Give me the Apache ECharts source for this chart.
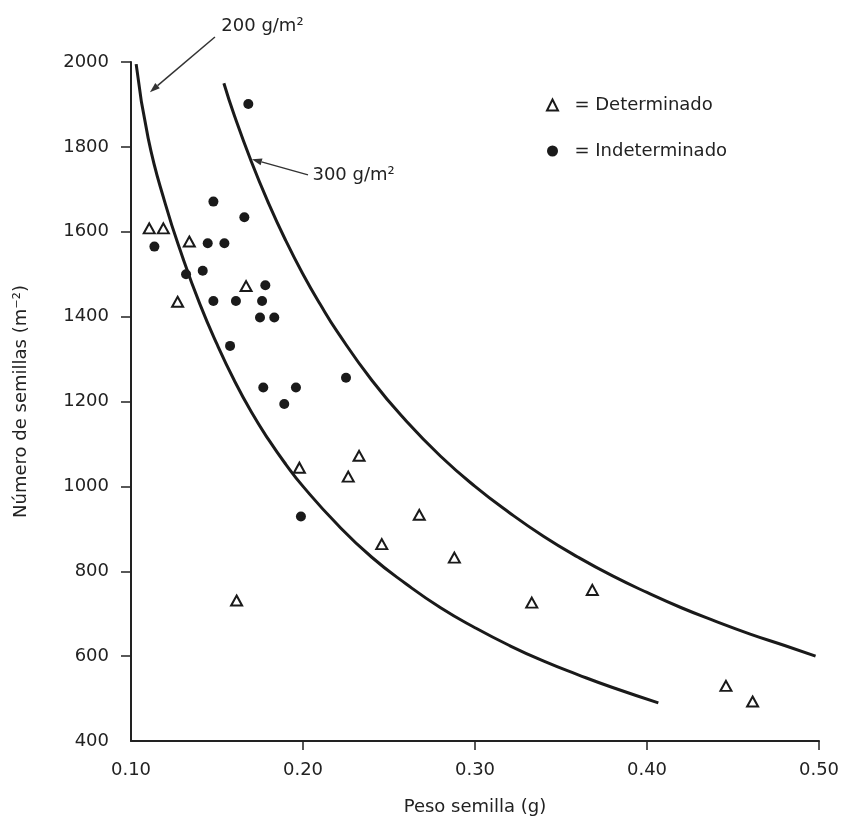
<!DOCTYPE html>
<html>
<head>
<meta charset="utf-8">
<script src="https://cdn.jsdelivr.net/npm/echarts@6/dist/echarts.min.js"></script>
<style>html,body{margin:0;padding:0;background:#fff}#c{width:845px;height:822px}</style>
</head>
<body>
<div id="c"></div>
<script>
// ---- data ----
const xTickValues = [0.10, 0.20, 0.30, 0.40, 0.50];
const yTickValues = [400, 600, 800, 1000, 1200, 1400, 1600, 1800, 2000];

const detX = [0.1106, 0.1188, 0.1339, 0.1271, 0.1669, 0.1979, 0.2326, 0.2263, 0.2676, 0.2458, 0.2880, 0.3330, 0.3682, 0.1614, 0.4459, 0.4614];
const detY = [1608, 1608, 1577, 1435, 1472, 1044, 1072, 1023, 933, 864, 832, 726, 756, 731, 530, 493];

const indX = [0.1136, 0.1446, 0.1543, 0.1479, 0.1659, 0.1320, 0.1417, 0.1479, 0.1610, 0.1762, 0.1781, 0.1750, 0.1833, 0.1576, 0.2250, 0.1769, 0.1959, 0.1891, 0.1988, 0.1682];
const indY = [1565, 1573, 1573, 1671, 1634, 1500, 1508, 1437, 1437, 1437, 1474, 1398, 1398, 1331, 1256, 1233, 1233, 1194, 929, 1901];

const curve200X = [0.103, 0.11, 0.12, 0.13, 0.14, 0.15, 0.16, 0.17, 0.18, 0.19, 0.20, 0.22, 0.24, 0.26, 0.28, 0.30, 0.32, 0.34, 0.36, 0.38, 0.4066];
const curve200Y = [1995, 1820, 1665, 1540, 1430, 1335, 1250, 1175, 1110, 1052, 1000, 910, 833, 770, 714, 667, 625, 588, 556, 526, 490];

const curve300X = [0.154, 0.16, 0.17, 0.18, 0.19, 0.20, 0.21, 0.22, 0.24, 0.26, 0.28, 0.30, 0.32, 0.34, 0.36, 0.38, 0.40, 0.42, 0.44, 0.46, 0.48, 0.498];
const curve300Y = [1950, 1875, 1765, 1667, 1579, 1500, 1429, 1364, 1250, 1154, 1071, 1000, 938, 882, 833, 789, 750, 714, 682, 652, 625, 600];

const seriesNames = ['Determinado', 'Indeterminado'];
const curveLabels = ['200 g/m²', '300 g/m²'];
// annotation arrows: [textX, textY, arrowStartX, arrowStartY, arrowEndX, arrowEndY] in data units
const annot200 = [0.1525, 2085, 0.1488, 2059, 0.1110, 1929];
const annot300 = [0.2055, 1734, 0.2029, 1734, 0.1703, 1771];

const zip = (a, b) => a.map((v, i) => [v, b[i]]);

const FONT = 'DejaVu Sans';
const TXT = '#222';
const INK = '#1a1a1a';

const chart = echarts.init(document.getElementById('c'), null, {renderer: 'canvas'});

const option = {
  animation: false,
  backgroundColor: '#fff',
  grid: {left: 131, right: 26, top: 62, bottom: 81, containLabel: false},
  legend: {
    orient: 'vertical', left: 541, top: 91,
    itemWidth: 11, itemHeight: 11, itemGap: 28,
    data: seriesNames,
    formatter: n => '  = ' + n,
    textStyle: {fontFamily: FONT, fontSize: 18, color: TXT}
  },
  xAxis: {
    type: 'value', min: 0.1, max: 0.5, interval: 0.1,
    name: 'Peso semilla (g)', nameLocation: 'middle', nameGap: 57,
    nameTextStyle: {fontFamily: FONT, fontSize: 18, color: TXT},
    axisLine: {show: true, onZero: false, lineStyle: {color: '#222', width: 2}},
    axisTick: {show: true, length: 9, inside: false, lineStyle: {color: '#222', width: 1.5}, customValues: xTickValues.slice(1)},
    axisLabel: {fontFamily: FONT, fontSize: 18, color: TXT, margin: 20,
      customValues: xTickValues, formatter: v => v.toFixed(2)},
    splitLine: {show: false}
  },
  yAxis: {
    type: 'value', min: 400, max: 2000, interval: 200,
    name: 'Número de semillas (m⁻²)', nameLocation: 'middle', nameGap: 101,
    nameTextStyle: {fontFamily: FONT, fontSize: 18, color: TXT},
    axisLine: {show: true, onZero: false, lineStyle: {color: '#222', width: 2}},
    axisTick: {show: true, length: 10, inside: false, lineStyle: {color: '#222', width: 1.5}, customValues: yTickValues.slice(1)},
    axisLabel: {fontFamily: FONT, fontSize: 18, color: TXT, margin: 22, customValues: yTickValues,
      formatter: v => String(Math.round(v))},
    splitLine: {show: false}
  },
  series: [
    {
      name: '200', type: 'line', data: zip(curve200X, curve200Y), smooth: true,
      showSymbol: false, silent: true, clip: false,
      lineStyle: {color: INK, width: 3}
    },
    {
      name: '300', type: 'line', data: zip(curve300X, curve300Y), smooth: true,
      showSymbol: false, silent: true, clip: false,
      lineStyle: {color: INK, width: 3}
    },
    {
      name: seriesNames[0], type: 'scatter', data: zip(detX, detY),
      symbol: 'triangle', symbolSize: [11, 10],
      itemStyle: {color: '#fff', borderColor: '#1a1a1a', borderWidth: 2, opacity: 1}
    },
    {
      name: seriesNames[1], type: 'scatter', data: zip(indX, indY),
      symbol: 'circle', symbolSize: 10,
      itemStyle: {color: INK, borderWidth: 0, opacity: 1}
    }
  ]
};
chart.setOption(option);

function arrowGraphics(a, label) {
  const p = id => chart.convertToPixel({gridIndex: 0}, id);
  const t = p([a[0], a[1]]);
  const s = p([a[2], a[3]]);
  const e = p([a[4], a[5]]);
  const dx = e[0] - s[0], dy = e[1] - s[1];
  const len = Math.sqrt(dx * dx + dy * dy);
  const ux = dx / len, uy = dy / len;
  const hl = 10, hw = 3.5;
  const bx = e[0] - ux * hl, by = e[1] - uy * hl;
  return [
    {type: 'line', shape: {x1: s[0], y1: s[1], x2: bx, y2: by}, style: {stroke: '#333', lineWidth: 1.5}},
    {type: 'polygon', shape: {points: [[e[0], e[1]], [bx - uy * hw, by + ux * hw], [bx + uy * hw, by - ux * hw]]}, style: {fill: '#333'}},
    {type: 'text', x: t[0], y: t[1], style: {text: label, fontFamily: FONT, fontSize: 18, fill: TXT, align: 'left', verticalAlign: 'middle'}}
  ];
}

chart.setOption({graphic: [].concat(arrowGraphics(annot200, curveLabels[0]), arrowGraphics(annot300, curveLabels[1]))});
</script>
</body>
</html>
